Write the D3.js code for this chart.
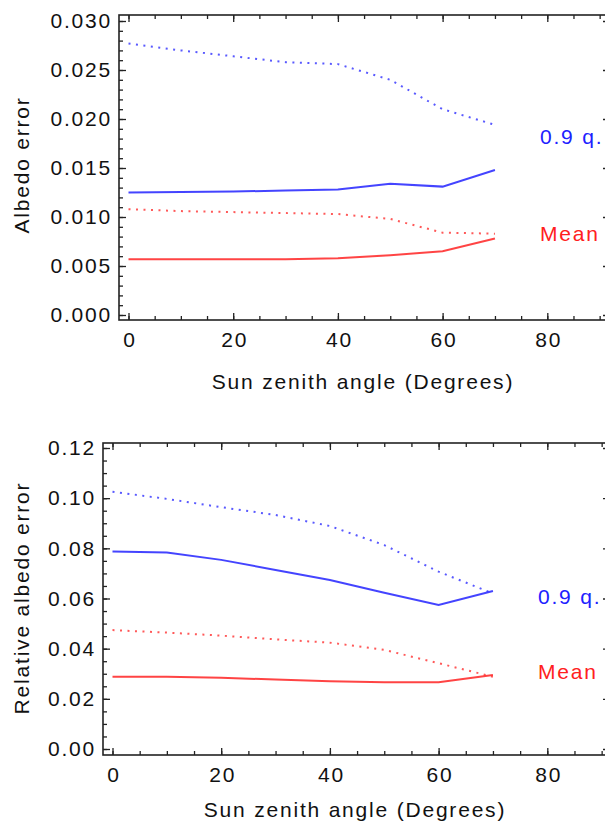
<!DOCTYPE html>
<html>
<head>
<meta charset="utf-8">
<script src="https://cdn.jsdelivr.net/npm/d3@7"></script>
<style>
  body { margin: 0; background: #fff; overflow: hidden; }
  svg { display: block; font-family: "Liberation Sans", Arial, sans-serif; }
  svg text { letter-spacing: 1.8px; }
</style>
</head>
<body>
<div id="chart"></div>
<script>
// Sun zenith angles (degrees)
const angles = [0, 10, 20, 30, 40, 50, 60, 70];

// Top panel: albedo error
const albedoQ90Dotted = [0.0277, 0.0270, 0.0264, 0.0258, 0.0256, 0.0240, 0.0210, 0.0194];
const albedoQ90Solid  = [0.0125, 0.01255, 0.0126, 0.0127, 0.0128, 0.0134, 0.0131, 0.0148];
const albedoMeanDotted = [0.0108, 0.0106, 0.0105, 0.0104, 0.0103, 0.0098, 0.0084, 0.0083];
const albedoMeanSolid  = [0.0057, 0.0057, 0.0057, 0.0057, 0.0058, 0.0061, 0.0065, 0.0078];

// Bottom panel: relative albedo error
const relQ90Dotted = [0.1026, 0.0997, 0.0964, 0.0933, 0.0889, 0.0813, 0.0707, 0.0620];
const relQ90Solid  = [0.0787, 0.0783, 0.0754, 0.0714, 0.0674, 0.0623, 0.0574, 0.0630];
const relMeanDotted = [0.0474, 0.0464, 0.0452, 0.0437, 0.0424, 0.0395, 0.0342, 0.0288];
const relMeanSolid  = [0.0288, 0.0288, 0.0284, 0.0277, 0.0270, 0.0266, 0.0266, 0.0295];

const xTicksMajor = [0, 20, 40, 60, 80];
const xTicksMinor = d3.range(0, 91, 5);
const topYMajor = [0, 0.005, 0.010, 0.015, 0.020, 0.025, 0.030];
const topYMinor = d3.range(0, 31).map(d => d / 1000);
const botYMajor = [0, 0.02, 0.04, 0.06, 0.08, 0.10, 0.12];
const botYMinor = d3.range(0, 25).map(d => d * 0.005);

const blue = "#3030ff";
const red = "#ff3030";

const svg = d3.select("#chart").append("svg")
  .attr("width", 605)
  .attr("height", 830);

function drawPanel(p) {
  const x = d3.scaleLinear().domain([0, 80]).range(p.xRange);
  const y = d3.scaleLinear().domain(p.yDomain).range(p.yRange);
  const g = svg.append("g");

  const axis = (gen, tx, ty) => g.append("g")
    .attr("transform", `translate(${tx},${ty})`)
    .call(gen)
    .call(s => s.select(".domain").remove())
    .call(s => s.selectAll("line").attr("stroke", "#222").attr("stroke-width", 1.3));

  // minor ticks on all four sides, pointing inwards
  axis(d3.axisBottom(x).tickValues(xTicksMinor).tickSize(-4).tickFormat(""), 0, p.frame.bottom);
  axis(d3.axisTop(x).tickValues(xTicksMinor).tickSize(-4).tickFormat(""), 0, p.frame.top);
  axis(d3.axisLeft(y).tickValues(p.yMinor).tickSize(-4).tickFormat(""), p.frame.left, 0);
  axis(d3.axisRight(y).tickValues(p.yMinor).tickSize(-4).tickFormat(""), p.frame.right, 0);

  // major ticks with labels
  const xb = axis(d3.axisBottom(x).tickValues(xTicksMajor).tickSize(-7).tickPadding(12)
    .tickFormat(d3.format("d")), 0, p.frame.bottom);
  axis(d3.axisTop(x).tickValues(xTicksMajor).tickSize(-7).tickFormat(""), 0, p.frame.top);
  const yl = axis(d3.axisLeft(y).tickValues(p.yMajor).tickSize(-7).tickPadding(7)
    .tickFormat(p.yFormat), p.frame.left, 0);
  axis(d3.axisRight(y).tickValues(p.yMajor).tickSize(-7).tickFormat(""), p.frame.right, 0);

  [xb, yl].forEach(a => a.selectAll("text")
    .attr("fill", "#111")
    .style("font-size", "21px"));
  xb.selectAll("text").attr("dx", "1px");

  // frame (right edge falls just outside the picture, as in the original)
  g.append("rect")
    .attr("x", p.frame.left)
    .attr("y", p.frame.top)
    .attr("width", p.frame.right - p.frame.left)
    .attr("height", p.frame.bottom - p.frame.top)
    .attr("fill", "none")
    .attr("stroke", "#222")
    .attr("stroke-width", 1.6);

  const line = d3.line()
    .x((d, i) => x(angles[i]))
    .y(d => y(d));

  p.series.forEach(s => {
    g.append("path")
      .datum(s.values)
      .attr("d", line)
      .attr("fill", "none")
      .attr("stroke", s.color)
      .attr("stroke-width", 2)
      .attr("stroke-opacity", s.dotted ? 0.8 : 0.9)
      .attr("stroke-dasharray", s.dotted ? "2,5.5" : null);
  });

  p.labels.forEach(l => {
    g.append("text")
      .attr("x", l.x)
      .attr("y", l.y)
      .attr("dy", "0.35em")
      .attr("fill", l.color)
      .style("font-size", "21px")
      .text(l.text);
  });

  // axis titles
  g.append("text")
    .attr("x", p.xTitle[0])
    .attr("y", p.xTitle[1])
    .attr("dy", "0.35em")
    .attr("text-anchor", "middle")
    .attr("fill", "#111")
    .style("font-size", "21px")
    .text("Sun zenith angle (Degrees)");

  g.append("text")
    .attr("transform", `translate(${p.yTitle[0]},${p.yTitle[1]}) rotate(-90)`)
    .attr("dy", "0.35em")
    .attr("text-anchor", "middle")
    .attr("fill", "#111")
    .style("font-size", "21px")
    .text(p.yTitleText);
}

drawPanel({
  xRange: [128.5, 547.3],
  yDomain: [0, 0.03],
  yRange: [315, 21],
  frame: { left: 119, right: 610, top: 15, bottom: 320 },
  yMajor: topYMajor,
  yMinor: topYMinor,
  yFormat: d3.format(".3f"),
  series: [
    { values: albedoQ90Dotted, color: blue, dotted: true },
    { values: albedoQ90Solid, color: blue, dotted: false },
    { values: albedoMeanDotted, color: red, dotted: true },
    { values: albedoMeanSolid, color: red, dotted: false }
  ],
  labels: [
    { text: "0.9 q.", x: 540, y: 137, color: "#2020ff" },
    { text: "Mean", x: 540, y: 234, color: "#ff2020" }
  ],
  xTitle: [363, 382],
  yTitle: [22, 165],
  yTitleText: "Albedo error"
});

drawPanel({
  xRange: [112.5, 547.3],
  yDomain: [0, 0.12],
  yRange: [749, 448],
  frame: { left: 103, right: 610, top: 443, bottom: 755 },
  yMajor: botYMajor,
  yMinor: botYMinor,
  yFormat: d3.format(".2f"),
  series: [
    { values: relQ90Dotted, color: blue, dotted: true },
    { values: relQ90Solid, color: blue, dotted: false },
    { values: relMeanDotted, color: red, dotted: true },
    { values: relMeanSolid, color: red, dotted: false }
  ],
  labels: [
    { text: "0.9 q.", x: 538, y: 597, color: "#2020ff" },
    { text: "Mean", x: 538, y: 672, color: "#ff2020" }
  ],
  xTitle: [355, 810],
  yTitle: [22, 598],
  yTitleText: "Relative albedo error"
});
</script>
</body>
</html>
